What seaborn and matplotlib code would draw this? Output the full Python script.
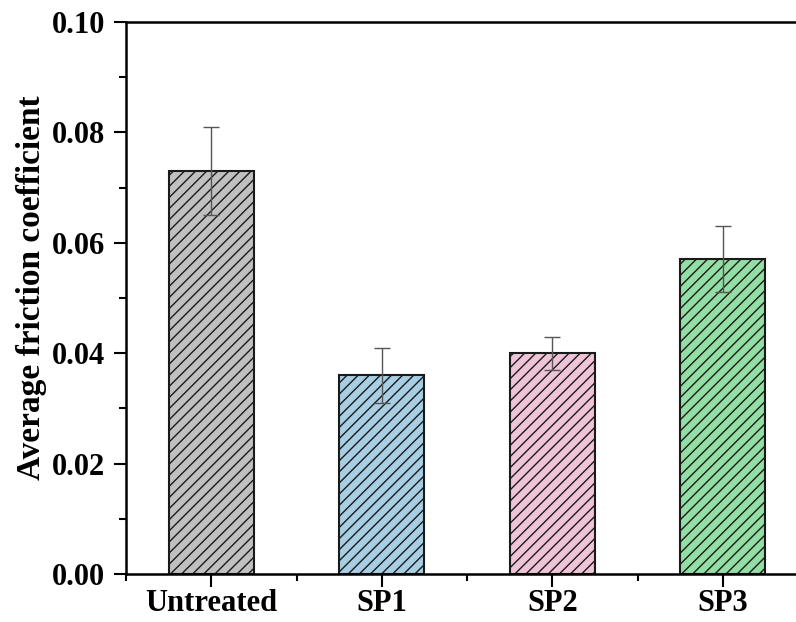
import matplotlib
matplotlib.use("Agg")
import matplotlib.pyplot as plt
import seaborn as sns
import pandas as pd
from matplotlib.ticker import MultipleLocator, FormatStrFormatter

categories = ["Untreated", "SP1", "SP2", "SP3"]
friction = [0.073, 0.036, 0.040, 0.057]
errors = [0.008, 0.005, 0.003, 0.006]
colors = ["#c0c0c0", "#a7cee3", "#f0c4d8", "#93dea4"]

sns.set_style("ticks")
plt.rcParams["font.family"] = ["Liberation Serif", "DejaVu Serif"]
plt.rcParams["font.weight"] = "bold"
plt.rcParams["text.color"] = "black"
plt.rcParams["axes.labelcolor"] = "black"
plt.rcParams["hatch.linewidth"] = 1.0
plt.rcParams["hatch.color"] = "#1a1a1a"

df = pd.DataFrame({"sample": categories, "cof": friction})

fig = plt.figure(figsize=(7.96, 6.22), dpi=100)
ax = fig.add_axes([126 / 796, 48 / 622, (808 - 126) / 796, (574 - 22) / 622])

sns.barplot(data=df, x="sample", y="cof", hue="sample", palette=colors,
            order=categories, hue_order=categories, width=0.5, saturation=1,
            errorbar=None, legend=False, ax=ax,
            edgecolor="#1a1a1a", linewidth=1.5)
for p in ax.patches:
    p.set_hatch("///")

ax.errorbar(range(len(categories)), friction, yerr=errors, fmt="none",
            ecolor="#555555", elinewidth=1.0, capsize=6, capthick=1.0)

ax.set_xlim(-0.5, 3.5)
ax.set_ylim(0, 0.10)
ax.yaxis.set_major_locator(MultipleLocator(0.02))
ax.yaxis.set_minor_locator(MultipleLocator(0.01))
ax.yaxis.set_major_formatter(FormatStrFormatter("%.2f"))
ax.xaxis.set_minor_locator(MultipleLocator(0.5))

ax.set_xlabel("")
ax.set_ylabel("Average friction coefficient", fontsize=24, fontweight="bold",
              color="black")
ax.yaxis.set_label_coords(-0.116, 0.518)
ax.tick_params(axis="both", which="major", direction="out", length=9, width=1.5,
               labelsize=22, colors="black")
ax.tick_params(axis="y", which="major", pad=6)
ax.tick_params(axis="x", which="major", pad=2)
ax.tick_params(axis="both", which="minor", direction="out", length=5, width=1.5,
               colors="black")
for lbl in ax.get_xticklabels() + ax.get_yticklabels():
    lbl.set_fontweight("bold")

for side in ["left", "bottom", "top"]:
    ax.spines[side].set_visible(True)
    ax.spines[side].set_linewidth(1.8)
    ax.spines[side].set_color("black")
ax.spines["right"].set_visible(False)

fig.savefig("out.png", dpi=100)
